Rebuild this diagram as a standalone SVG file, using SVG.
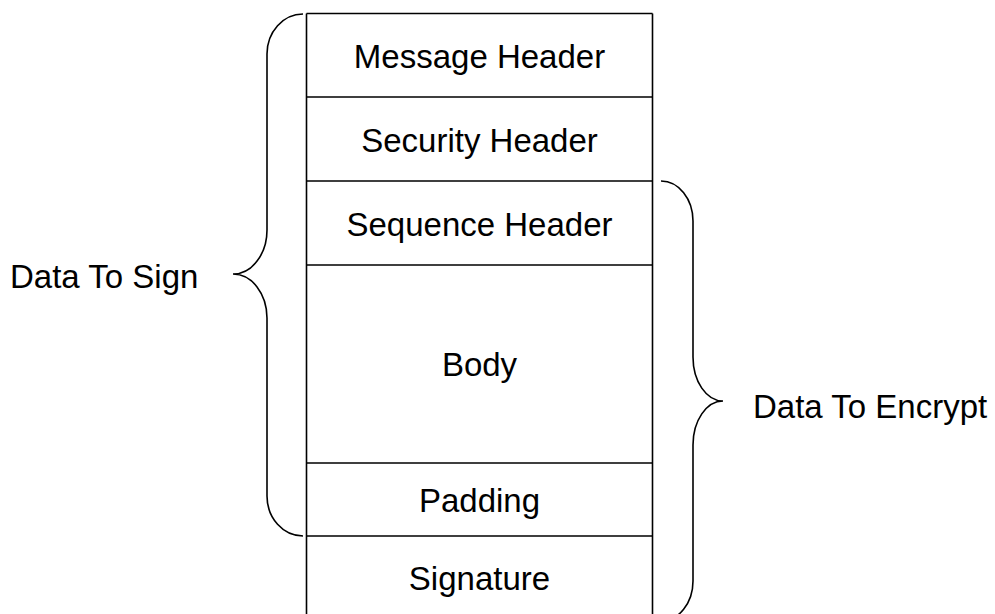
<svg xmlns="http://www.w3.org/2000/svg" width="995" height="614" viewBox="0 0 995 614">
<style>
.ln{fill:none;stroke:#000;stroke-width:1.6}
.br{fill:none;stroke:#000;stroke-width:1.6}
text{font-family:"Liberation Sans",Arial,sans-serif;font-size:33px;fill:#000}
.c{text-anchor:middle}
</style>
<rect width="995" height="614" fill="#fff"/>
<g id="stack">
<g id="message-header"><path class="ln" d="M306.5 13.5H652.5M306.5 13.5V97M652.5 13.5V97"/><text class="c" x="479.5" y="68">Message Header</text></g>
<g id="security-header"><path class="ln" d="M306.5 97H652.5M306.5 97V181M652.5 97V181"/><text class="c" x="479.5" y="152">Security Header</text></g>
<g id="sequence-header"><path class="ln" d="M306.5 181H652.5M306.5 181V265M652.5 181V265"/><text class="c" x="479.5" y="236">Sequence Header</text></g>
<g id="body"><path class="ln" d="M306.5 265H652.5M306.5 265V463M652.5 265V463"/><text class="c" x="479.5" y="376">Body</text></g>
<g id="padding"><path class="ln" d="M306.5 463H652.5M306.5 463V536M652.5 463V536"/><text class="c" x="479.5" y="512">Padding</text></g>
<g id="signature"><path class="ln" d="M306.5 536H652.5M306.5 536V614M652.5 536V614"/><text class="c" x="479.5" y="590">Signature</text></g>
</g>
<g id="connectors">
<path class="br" d="M303 14A36 40 0 0 0 267 54V230A34 44 0 0 1 233 274A34 44 0 0 1 267 318V496A36 40 0 0 0 303 536"/>
<path class="br" d="M661 181A32 40 0 0 1 693 221V357A30 44 0 0 0 723 401A30 44 0 0 0 693 445V581A32 40 0 0 1 661 621"/>
</g>
<g id="labels">
<text id="data-to-sign" x="10" y="288">Data To Sign</text>
<text id="data-to-encrypt" x="753" y="418">Data To Encrypt</text>
</g>
</svg>
